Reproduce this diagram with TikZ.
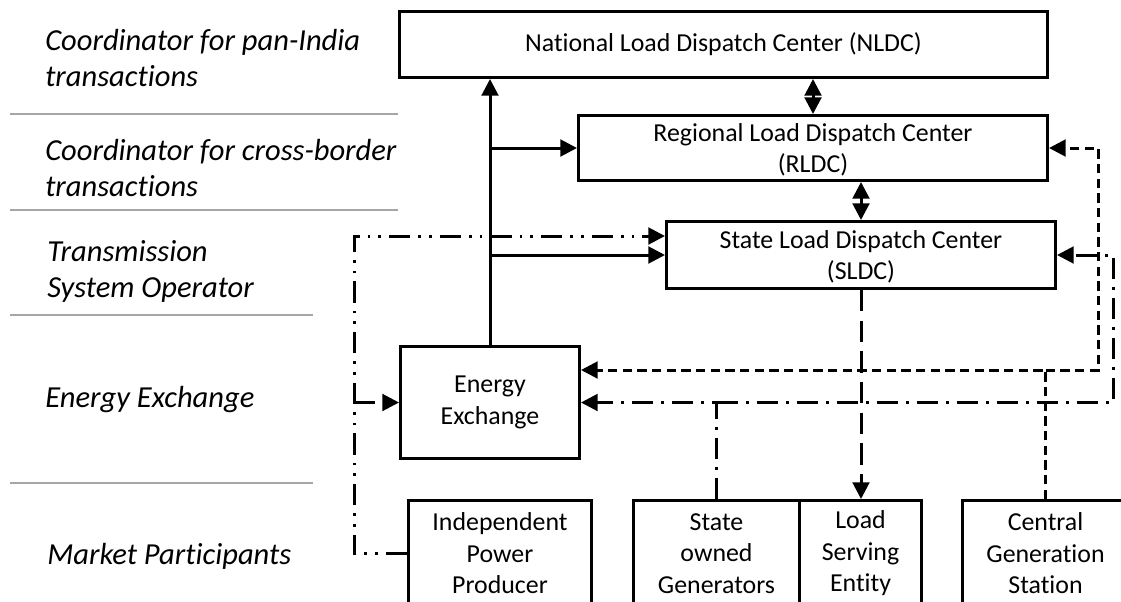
\documentclass[tikz,border=0pt]{standalone}
\usepackage{fontspec}
\setmainfont{Carlito}[Ligatures=NoCommon]
\usetikzlibrary{positioning,calc,arrows.meta}
\newcommand{\px}{0.75pt}
\tikzstyle{dispatch_node}=[rectangle, draw, line width=2.25pt, inner sep=0pt, anchor=north west, align=center, font=\fontsize{19.4}{23.6}\selectfont]
\tikzstyle{participant_node}=[dispatch_node, minimum height=106*\px]
\tikzstyle{layer_label}=[anchor=west, align=left, inner sep=0pt, font=\fontsize{22.9}{27}\selectfont\itshape]
\tikzstyle{layer_rule}=[draw=black!35, line width=1pt]
\tikzstyle{flow}=[line width=2.25pt]
\tikzstyle{dash_dot_dot}=[flow, dash pattern=on 16pt off 6pt on 2pt off 6pt on 2pt off 6pt]
\tikzstyle{dash_dot}=[flow, dash pattern=on 16pt off 6pt on 2pt off 6pt]
\tikzstyle{long_dash}=[flow, dash pattern=on 16pt off 7pt]
\tikzstyle{short_dash}=[flow, dash pattern=on 7pt off 4pt]

\begin{document}
\begin{tikzpicture}[x=0.75pt, y=-0.75pt, >={Triangle[length=12.5pt,width=12.5pt]}]

    \useasboundingbox (0,0) rectangle (1121,601);
    \clip (0,0) rectangle (1121,601);

    % Layer labels
    \node[layer_label] (pan_india) at (45,58) {Coordinator for pan-India\\transactions};
    \node[layer_label] (cross_border) at (45,168) {Coordinator for cross-border\\transactions};
    \node[layer_label] (tso) at (47,271) {Transmission\\System Operator};
    \node[layer_label] (exchange_label) at (45,400) {Energy Exchange};
    \node[layer_label] (participants) at (47,556) {Market Participants};

    \draw[layer_rule] (10,114) -- (398,114);
    \draw[layer_rule] (10,210) -- (398,210);
    \draw[layer_rule] (10,315) -- (313,315);
    \draw[layer_rule] (10,483) -- (313,483);

    % Dispatch centers
    \node[dispatch_node, minimum width=648*\px, minimum height=66*\px] (nldc) at (398,10) {National Load Dispatch Center (NLDC)};
    \node[dispatch_node, minimum width=469*\px, minimum height=65*\px, text depth=0pt] (rldc) at (577,114) {Regional Load Dispatch Center\\(RLDC)};
    \node[dispatch_node, minimum width=389*\px, minimum height=67*\px, text depth=0pt] (sldc) at (665,220) {State Load Dispatch Center\\(SLDC)};

    % Energy exchange
    \node[dispatch_node, minimum width=179*\px, minimum height=112*\px] (ee) at (399,345) {Energy\\Exchange};

    % Market participants
    \node[participant_node, minimum width=183*\px] (ipp) at (407,499) {Independent\\Power\\Producer};
    \node[participant_node, minimum width=166*\px] (sog) at (632,499) {State\\owned\\Generators};
    \node[participant_node, minimum width=122*\px] (lse) at (798,499) {Load\\Serving\\Entity};
    \node[participant_node, minimum width=166*\px] (cgs) at (961,499) {Central\\Generation\\Station};

    % Solid links
    \draw[flow,->] (ee.north) -- (ee.north |- nldc.south);
    \draw[flow,->] (ee.north |- rldc.west) -- (rldc.west);
    \draw[flow,->] (ee.north |- sldc.west) -- (sldc.west);
    \draw[flow,<->] (nldc.south -| rldc.north) -- (rldc.north);
    \draw[flow,<->] (rldc.south -| sldc.north) -- (sldc.north);

    % IPP
    \coordinate (sldc_ipp) at ($(sldc.north west)+(0,16)$);
    \coordinate (ipp_x) at (354,0);
    \draw[dash_dot_dot,->] (ipp.west) -| (ipp_x |- sldc_ipp) -- (sldc_ipp);
    \draw[dash_dot_dot,->] (ipp_x |- ee.west) -- (ee.west);

    % State owned generators
    \coordinate (sog_x) at (1113,0);
    \draw[dash_dot,->] (sog.north) |- (ee.east);
    \draw[dash_dot,->] (sog.north |- ee.east) -| (sog_x |- sldc.east) -- (sldc.east);

    % Central generation
    \coordinate (ee_cgs) at ($(ee.north east)+(0,25)$);
    \coordinate (cgs_x) at (1098,0);
    \draw[short_dash,->] (cgs.north) |- (ee_cgs);
    \draw[short_dash,->] (cgs.north |- ee_cgs) -| (cgs_x |- rldc.east) -- (rldc.east);

    % Load serving
    \draw[long_dash,->] (sldc.south) -- (sldc.south |- lse.north);

\end{tikzpicture}
\end{document}
